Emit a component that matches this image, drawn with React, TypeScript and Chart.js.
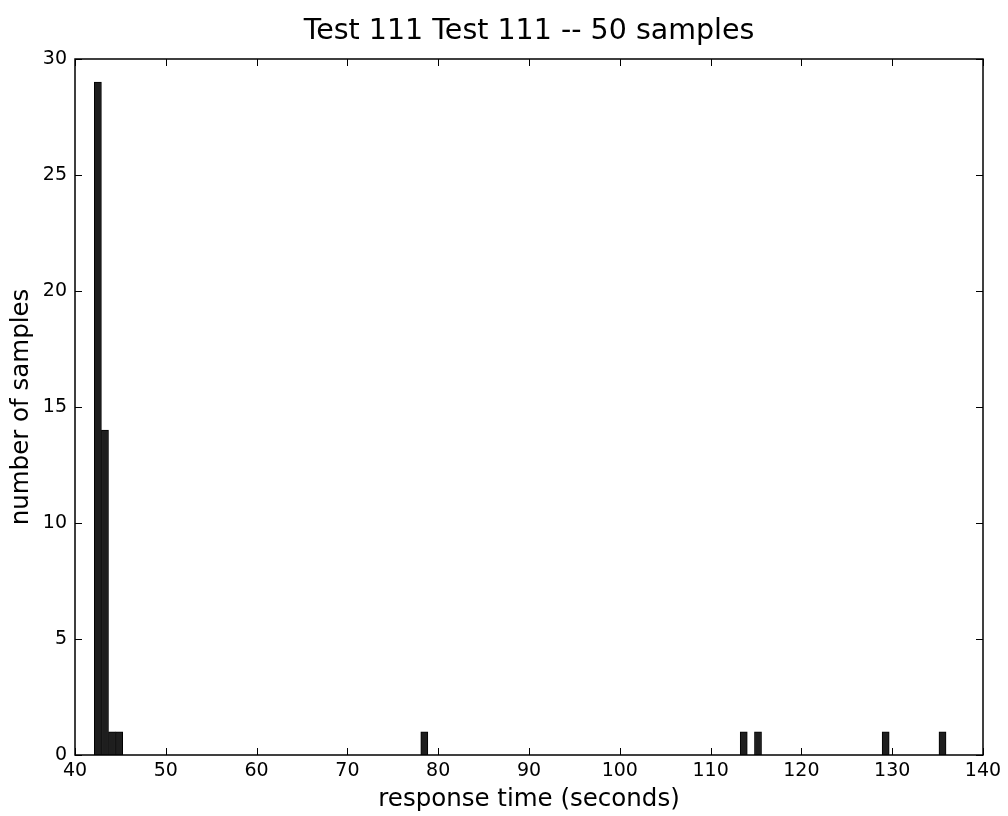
import React, { useEffect, useRef } from "react";
import { Chart, registerables } from "chart.js";

Chart.register(...registerables);

// Histogram bins (centre of each non-empty bin, seconds) and their counts
const binCenters = [42.52, 43.30, 44.08, 44.86, 78.47, 113.65, 115.22, 129.28, 135.54];
const binCounts = [29, 14, 1, 1, 1, 1, 1, 1, 1];

const xTicks = [40, 50, 60, 70, 80, 90, 100, 110, 120, 130, 140];
const yTicks = [0, 5, 10, 15, 20, 25, 30];

const titleText = "Test 111 Test 111 -- 50 samples";
const xLabel = "response time (seconds)";
const yLabel = "number of samples";

const FONT = "'DejaVu Sans', sans-serif";

const framePlugin = {
  id: "frame",
  afterDatasetsDraw(chart: any) {
    const { ctx, chartArea, scales } = chart;
    const { left, right, top, bottom } = chartArea;
    const L = 7;
    ctx.save();
    ctx.strokeStyle = "#000";
    ctx.lineWidth = 1;
    ctx.beginPath();
    scales.x.ticks.forEach((t: any) => {
      const px = Math.round(scales.x.getPixelForValue(t.value)) + 0.5;
      ctx.moveTo(px, bottom);
      ctx.lineTo(px, bottom - L);
      ctx.moveTo(px, top);
      ctx.lineTo(px, top + L);
    });
    scales.y.ticks.forEach((t: any) => {
      const py = Math.round(scales.y.getPixelForValue(t.value)) + 0.5;
      ctx.moveTo(left, py);
      ctx.lineTo(left + L, py);
      ctx.moveTo(right, py);
      ctx.lineTo(right - L, py);
    });
    ctx.stroke();
    ctx.lineWidth = 1.5;
    ctx.strokeRect(left, top, right - left, bottom - top);
    ctx.restore();
  },
};

export default function App() {
  const ref = useRef<HTMLCanvasElement | null>(null);

  useEffect(() => {
    document.body.style.margin = "0";
    if (!ref.current) return;
    const chart = new Chart(ref.current, {
      type: "bar",
      data: {
        datasets: [
          {
            data: binCenters.map((x, i) => ({ x, y: binCounts[i] })),
            backgroundColor: "#1e1e1e",
            borderColor: "#000",
            borderWidth: 1,
            borderSkipped: "start",
            barPercentage: 1,
            categoryPercentage: 1,
          },
        ],
      },
      options: {
        responsive: false,
        animation: false,
        layout: { padding: { left: 0, right: 25, top: 0, bottom: 0 } },
        plugins: {
          legend: { display: false },
          tooltip: { enabled: false },
          title: {
            display: true,
            fullSize: false,
            text: titleText,
            color: "#000",
            font: { family: FONT, size: 28.5, weight: "normal", lineHeight: 1.2 },
            padding: { top: 14, bottom: 10.8 },
          },
        },
        scales: {
          x: {
            type: "linear",
            offset: false,
            min: 40,
            max: 140,
            afterBuildTicks: (s: any) => {
              s.ticks = xTicks.map((v) => ({ value: v }));
            },
            afterFit: (s: any) => {
              s.height = 61;
            },
            ticks: {
              color: "#000",
              font: { family: FONT, size: 19 },
              padding: 5,
              maxRotation: 0,
              autoSkip: false,
            },
            grid: { display: false, drawTicks: false },
            border: { display: false },
            title: {
              display: true,
              text: xLabel,
              color: "#000",
              font: { family: FONT, size: 24.5, lineHeight: 1.2 },
              padding: { top: 0, bottom: 1.3 },
            },
          },
          y: {
            type: "linear",
            min: 0,
            max: 30,
            afterBuildTicks: (s: any) => {
              s.ticks = yTicks.map((v) => ({ value: v }));
            },
            afterFit: (s: any) => {
              s.width = 75;
            },
            ticks: {
              color: "#000",
              font: { family: FONT, size: 19 },
              padding: 8,
              autoSkip: false,
            },
            grid: { display: false, drawTicks: false },
            border: { display: false },
            title: {
              display: true,
              text: yLabel,
              color: "#000",
              font: { family: FONT, size: 24.5, lineHeight: 1.2 },
              padding: { top: 7.3, bottom: 0 },
            },
          },
        },
      },
      plugins: [framePlugin],
    } as any);
    return () => chart.destroy();
  }, []);

  return <canvas ref={ref} width={1008} height={816} style={{ display: "block" }} />;
}
